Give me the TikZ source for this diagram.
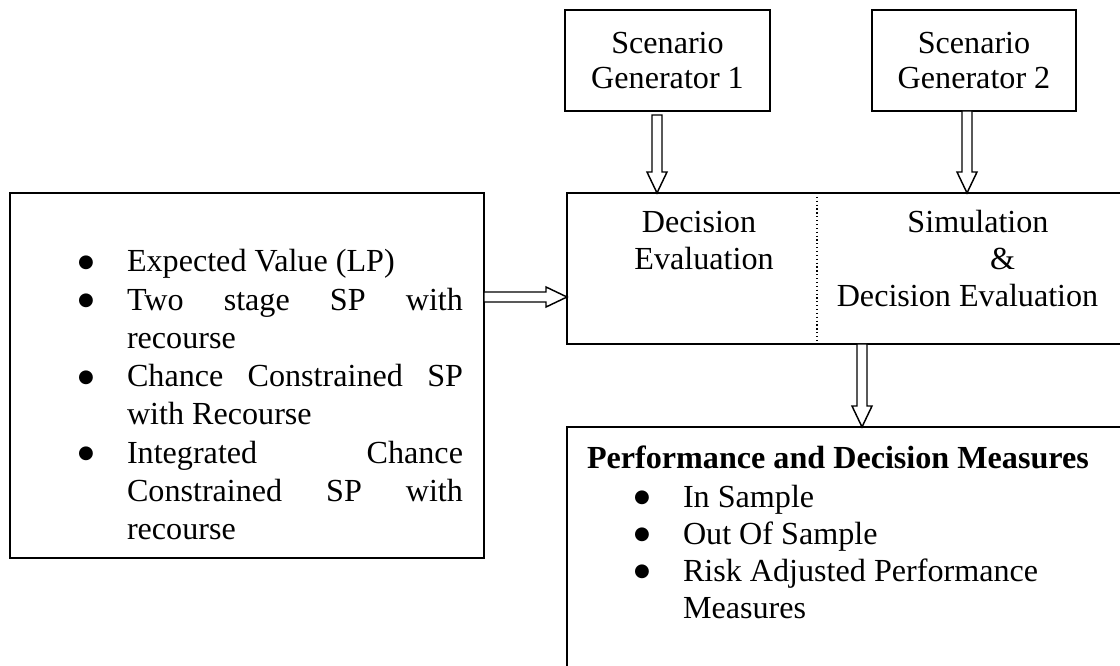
\documentclass[tikz,border=0pt]{standalone}
\usepackage{fontspec}
\setmainfont{Liberation Serif}
\newfontfamily\dejavu{DejaVu Sans}
\usetikzlibrary{calc}
\newcommand\vblockarrow[2]{\draw[blockarrow] let \p1=(#1), \p2=(#2) in
  (\x1-3.75pt,\y1) -- (\x1-3.75pt,\y2+15.75pt) -- (\x1-7.5pt,\y2+15.75pt) -- (\x1,\y2)
  -- (\x1+7.5pt,\y2+15.75pt) -- (\x1+3.75pt,\y2+15.75pt) -- (\x1+3.75pt,\y1) -- cycle;}
\newcommand\hblockarrow[2]{\draw[blockarrow] let \p1=(#1), \p2=(#2) in
  (\x1,\y1+3.75pt) -- (\x2-15.75pt,\y1+3.75pt) -- (\x2-15.75pt,\y1+7.5pt) -- (\x2,\y1)
  -- (\x2-15.75pt,\y1-7.5pt) -- (\x2-15.75pt,\y1-3.75pt) -- (\x1,\y1-3.75pt) -- cycle;}
\begin{document}
\begin{tikzpicture}[x=0.75pt,y=-0.75pt,
  box/.style={draw,line width=1.1pt,inner sep=0pt,outer sep=0pt},
  txt/.style={inner sep=0pt,outer sep=0pt,font=\fontsize{24.1}{28.5}\selectfont},
  bulnode/.style={inner sep=0pt,outer sep=0pt,anchor=center,font=\dejavu\fontsize{13.6}{14}\selectfont},
  blockarrow/.style={draw,line width=1.1pt,fill=white,line join=miter}]
\useasboundingbox (0,0) rectangle (1120,666);
\clip (0,0) rectangle (1120,666);

% boxes
\node[box,txt,align=center,minimum width=153.75pt,minimum height=75.75pt,
  font=\fontsize{24.1}{26.25}\selectfont] (sg1) at (667.5,60.5) {Scenario\\Generator 1};
\node[box,txt,align=center,minimum width=153pt,minimum height=75.75pt,
  font=\fontsize{24.1}{26.25}\selectfont] (sg2) at (974,60.5) {Scenario\\Generator 2};
\node[box,minimum width=429.75pt,minimum height=113.25pt] (dec) at (853.5,268.5) {};
\node[box,minimum width=355.5pt,minimum height=273.75pt] (lb) at (247,375.5) {};
\node[box,minimum width=429.75pt,minimum height=204.75pt] (perf) at (853.5,563.5) {};

% divider
\coordinate (dv) at (817,0);
\draw[dotted,line width=0.9pt] (dec.north -| dv) -- (dec.south -| dv);

% decision texts
\node[txt,anchor=base] at (699,233) {Decision};
\node[txt,anchor=base] at (704,270) {Evaluation};
\node[txt,anchor=base] at (978,233) {Simulation};
\node[txt,anchor=base] at (1002.5,270) {\&};
\node[txt,anchor=base] at (967.5,307) {Decision Evaluation};

% left list
\node[bulnode] (b1) at (86,263) {●};
\node[bulnode] (b2) at (86,301.2) {●};
\node[bulnode] (b3) at (86,377.6) {●};
\node[bulnode] (b4) at (86,454) {●};
\node[txt,anchor=base west] (l1) at (127,272) {Expected Value (LP)};
\node[txt,anchor=base west] (l2) at (127,310.2) {\makebox[252pt][s]{Two stage SP with}};
\node[txt,anchor=base west] (l3) at (127,348.4) {recourse};
\node[txt,anchor=base west] (l4) at (127,386.6) {\makebox[252pt][s]{Chance Constrained SP}};
\node[txt,anchor=base west] (l5) at (127,424.8) {with Recourse};
\node[txt,anchor=base west] (l6) at (127,463) {\makebox[252pt][s]{Integrated Chance}};
\node[txt,anchor=base west] (l7) at (127,501.2) {\makebox[252pt][s]{Constrained SP with}};
\node[txt,anchor=base west] (l8) at (127,539.4) {recourse};

% performance texts
\node[txt,anchor=base west] (pt) at (587,468) {\bfseries Performance and Decision Measures};
\node[bulnode] (pb1) at (642,498) {●};
\node[bulnode] (pb2) at (642,535) {●};
\node[bulnode] (pb3) at (642,572) {●};
\node[txt,anchor=base west] (p1) at (683,507) {In Sample};
\node[txt,anchor=base west] (p2) at (683,544) {Out Of Sample};
\node[txt,anchor=base west] (p3) at (683,581) {Risk Adjusted Performance};
\node[txt,anchor=base west] (p4) at (683,618) {Measures};

% arrows
\coordinate (a1s) at ([xshift=-7.875pt,yshift=-3pt]sg1.south);
\coordinate (a1e) at (a1s |- dec.north);
\vblockarrow{a1s}{a1e}
\coordinate (a2s) at ([xshift=-5.25pt]sg2.south);
\coordinate (a2e) at (a2s |- dec.north);
\vblockarrow{a2s}{a2e}
\coordinate (a3x) at (862,0);
\coordinate (a3s) at (dec.south -| a3x);
\coordinate (a3e) at (perf.north -| a3x);
\vblockarrow{a3s}{a3e}
\coordinate (ly) at (0,297);
\coordinate (a4s) at (lb.east |- ly);
\coordinate (a4e) at (dec.west |- ly);
\hblockarrow{a4s}{a4e}
\end{tikzpicture}
\end{document}
